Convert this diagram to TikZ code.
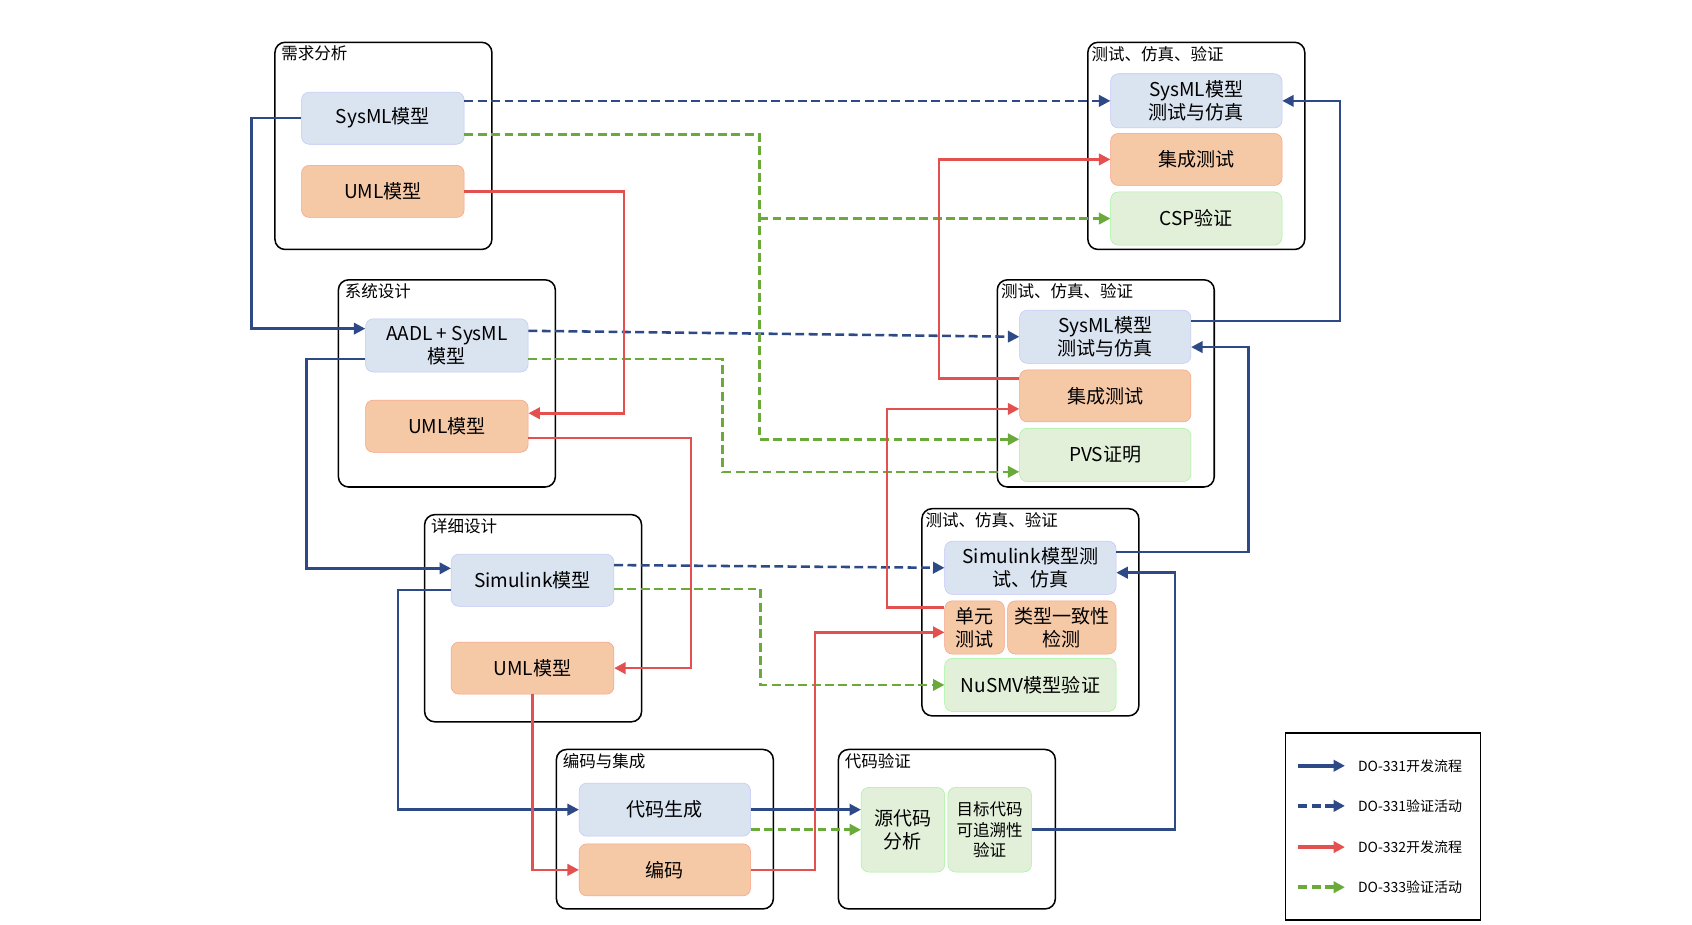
\documentclass[tikz,border=0pt]{standalone}
\usepackage{fontspec}
\setmainfont{Noto Sans CJK SC}
\usetikzlibrary{arrows.meta,calc,positioning}
\definecolor{devblue}{HTML}{2E4A86}
\definecolor{devred}{HTML}{E45050}
\definecolor{vergreen}{HTML}{6AAA3A}
\definecolor{boxblue}{HTML}{DAE3F0}
\definecolor{boxorange}{HTML}{F5C8A6}
\definecolor{boxgreen}{HTML}{E2F0D9}
\tikzset{
  grp/.style={draw, line width=1.2pt, rounded corners=8pt, minimum width=6cm, minimum height=5.73cm},
  grptitle/.style={anchor=north west, font=\fontsize{13}{14}\selectfont},
  bluebox/.style={fill=boxblue, draw=boxblue!70!blue!60, rounded corners=6pt, align=center, inner sep=1pt, font=\fontsize{15}{18}\selectfont},
  orangebox/.style={bluebox, fill=boxorange, draw=boxorange!80!red},
  greenbox/.style={bluebox, fill=boxgreen, draw=boxgreen!70!green},
  dev/.style={draw=devblue, line width=2pt, -{Triangle[length=9pt,width=9pt]}},
  devdash/.style={dev, dash pattern=on 7pt off 3.5pt},
  redline/.style={dev, draw=devred},
  greendash/.style={dev, draw=vergreen, dash pattern=on 7pt off 3.5pt}
}
\begin{document}
\begin{tikzpicture}[x=0.03cm, y=-0.03cm]
      \useasboundingbox (0,0) rectangle (1560,852);
      %groups
      \node[grp] (g-req) at (353.5,134.5) {};
      \node[grptitle] at (g-req.north west) {\,需求分析};
      \node[grp] (g-sys) at (412,353.5) {};
      \node[grptitle] at (g-sys.north west) {\,系统设计};
      \node[grp] (g-det) at (491.5,570) {};
      \node[grptitle] at (g-det.north west) {\,详细设计};
      \node[grp, minimum height=4.41cm] (g-code) at (613,764.5) {};
      \node[grptitle] at (g-code.north west) {\,编码与集成};
      \node[grp, minimum height=4.41cm] (g-cver) at (873,764.5) {};
      \node[grptitle] at (g-cver.north west) {\,代码验证};
      \node[grp] (g-t1) at (1103,134.5) {};
      \node[grptitle] at (g-t1.north west) {测试、仿真、验证};
      \node[grp] (g-t2) at (1019.5,353.5) {};
      \node[grptitle] at (g-t2.north west) {测试、仿真、验证};
      \node[grp] (g-t3) at (950,564.5) {};
      \node[grptitle] at (g-t3.north west) {测试、仿真、验证};
      %boxes
      \node[bluebox, minimum width=4.5cm, minimum height=1.44cm] (req-sysml) at (353,109) {SysML模型};
      \node[orangebox, minimum width=4.5cm, minimum height=1.44cm] (req-uml) at (353,176.5) {UML模型};
      \node[bluebox, minimum width=4.5cm, minimum height=1.47cm] (sys-aadl) at (412,318.5) {AADL + SysML\\模型};
      \node[orangebox, minimum width=4.5cm, minimum height=1.44cm] (sys-uml) at (412,393) {UML模型};
      \node[bluebox, minimum width=4.5cm, minimum height=1.44cm] (det-sim) at (491,535) {Simulink模型};
      \node[orangebox, minimum width=4.5cm, minimum height=1.44cm] (det-uml) at (491,616) {UML模型};
      \node[bluebox, minimum width=4.74cm, minimum height=1.47cm] (code-gen) at (613,746.5) {代码生成};
      \node[orangebox, minimum width=4.74cm, minimum height=1.44cm] (code-enc) at (613,802) {编码};
      \node[greenbox, minimum width=2.31cm, minimum height=2.34cm] (src) at (832.5,765) {源代码\\分析};
      \node[greenbox, minimum width=2.31cm, minimum height=2.34cm, font=\fontsize{13}{16}\selectfont] (obj) at (912.5,765) {目标代码\\可追溯性\\验证};
      \node[bluebox, minimum width=4.74cm, minimum height=1.5cm] (t1-sysml) at (1103,93) {SysML模型\\测试与仿真};
      \node[orangebox, minimum width=4.74cm, minimum height=1.44cm] (t1-int) at (1103,147) {集成测试};
      \node[greenbox, minimum width=4.74cm, minimum height=1.47cm] (t1-csp) at (1103,201.5) {CSP验证};
      \node[bluebox, minimum width=4.74cm, minimum height=1.47cm] (t2-sysml) at (1019,310.5) {SysML模型\\测试与仿真};
      \node[orangebox, minimum width=4.74cm, minimum height=1.44cm] (t2-int) at (1019,365) {集成测试};
      \node[greenbox, minimum width=4.74cm, minimum height=1.47cm] (t2-pvs) at (1019,419.5) {PVS证明};
      \node[bluebox, minimum width=4.74cm, minimum height=1.47cm] (t3-sim) at (950,523.5) {Simulink模型测\\试、仿真};
      \node[orangebox, minimum width=1.65cm, minimum height=1.47cm] (t3-unit) at (898.5,578.5) {单元\\测试};
      \node[orangebox, minimum width=3.0cm, minimum height=1.47cm] (t3-type) at (979,578.5) {类型一致性\\检测};
      \node[greenbox, minimum width=4.74cm, minimum height=1.47cm] (t3-nusmv) at (950,631.5) {NuSMV模型验证};
      %blue edges
      \draw[dev] (req-sysml.west) -- ++(-46,0) |- ($(sys-aadl.west)+(0,-15.5)$);
      \draw[dev] ($(sys-aadl.west)+(0,12.5)$) -- ++(-54,0) |- ($(det-sim.west)+(0,-11)$);
      \draw[dev] ($(det-sim.west)+(0,9)$) -- ++(-49,0) |- (code-gen.west);
      \draw[dev] (code-gen.east) -- ($(src.west)+(0,-18.5)$);
      \draw[dev] (obj.east) -- ++(132,0) |- ($(t3-sim.east)+(0,4.5)$);
      \draw[dev] ($(t3-sim.east)+(0,-14.5)$) -- ++(122,0) |- ($(t2-sysml.east)+(0,9.5)$);
      \draw[dev] ($(t2-sysml.east)+(0,-14.5)$) -- ++(137,0) |- (t1-sysml.east);
      \draw[devdash] ($(req-sysml.east)+(0,-16)$) -- (t1-sysml.west);
      \draw[devdash] ($(sys-aadl.east)+(0,-13.5)$) -- (t2-sysml.west);
      \draw[devdash] ($(det-sim.east)+(0,-14)$) -- (t3-sim.west);
      %green edges
      \coordinate (gbranch) at (700,201.5);
      \draw[greendash] ($(req-sysml.east)+(0,15)$) -- ++(272,0) |- ($(t2-pvs.west)+(0,-14.5)$);
      \draw[greendash] (gbranch) -- (t1-csp.west);
      \draw[greendash] ($(sys-aadl.east)+(0,12.5)$) -- ++(179,0) |- ($(t2-pvs.west)+(0,15.5)$);
      \draw[greendash] ($(det-sim.east)+(0,8)$) -- ++(135,0) |- (t3-nusmv.west);
      \draw[greendash] ($(code-gen.east)+(0,18.5)$) -- (src.west);
      %red edges
      \draw[redline] (req-uml.east) -- ++(147,0) |- ($(sys-uml.east)+(0,-12)$);
      \draw[redline] ($(sys-uml.east)+(0,11)$) -- ++(150,0) |- (det-uml.east);
      \draw[redline] (det-uml.south) |- (code-enc.west);
      \draw[redline] (code-enc.east) -- ++(59,0) |- ($(t3-unit.west)+(0,4.5)$);
      \draw[redline] ($(t3-unit.west)+(0,-18.5)$) -- ++(-53,0) |- ($(t2-int.west)+(0,12)$);
      \draw[redline] ($(t2-int.west)+(0,-16)$) -- ++(-74,0) |- (t1-int.west);
      %legend
      \node[draw, line width=1.2pt, minimum width=5.4cm, minimum height=5.16cm] (legend) at (1275,762) {};
      \foreach \y/\st/\txt [count=\i] in {706/dev/DO-331开发流程, 743/devdash/DO-331验证活动, 781/redline/DO-332开发流程, 818/greendash/DO-333验证活动} {
        \coordinate (leg\i-a) at (1197,\y);
        \coordinate (leg\i-b) at (1240,\y);
        \draw[\st, line width=2.8pt] (leg\i-a) -- (leg\i-b);
        \node[anchor=west, font=\fontsize{11}{13}\selectfont] at (1248,\y) {\txt};
      }
\end{tikzpicture}
\end{document}
